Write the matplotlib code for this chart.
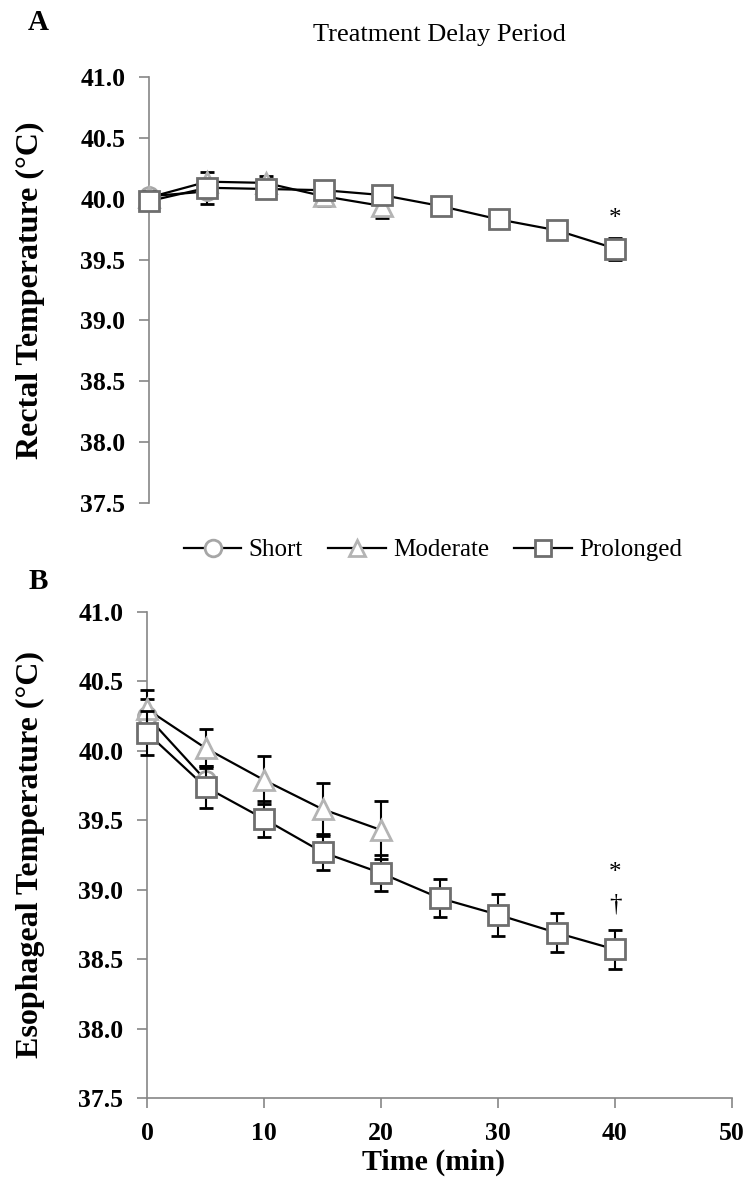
import numpy as np
import matplotlib.pyplot as plt
from matplotlib.lines import Line2D

plt.rcParams['font.family'] = ['Liberation Serif', 'DejaVu Serif']

# time points (min)
time = [0, 5, 10, 15, 20, 25, 30, 35, 40]

# A: rectal temperature (mean, SD)
short_rec = [40.02, 40.06]
short_rec_sd = [0.04, 0.10]
mod_rec = [40.01, 40.14, 40.13, 40.02, 39.94]
mod_rec_sd = [0.05, 0.08, 0.06, 0.08, 0.10]
pro_rec = [39.98, 40.09, 40.08, 40.07, 40.03, 39.94, 39.83, 39.74, 39.59]
pro_rec_sd = [0.04, 0.05, 0.06, 0.06, 0.05, 0.04, 0.05, 0.06, 0.09]

# B: esophageal temperature (mean, SD)
short_eso = [40.25, 39.79]
short_eso_sd = [0.12, 0.10]
mod_eso = [40.30, 40.02, 39.79, 39.58, 39.43]
mod_eso_sd = [0.14, 0.14, 0.17, 0.19, 0.21]
pro_eso = [40.13, 39.74, 39.51, 39.27, 39.12, 38.94, 38.82, 38.69, 38.57]
pro_eso_sd = [0.16, 0.15, 0.13, 0.13, 0.13, 0.14, 0.15, 0.14, 0.14]

labels = ['Short', 'Moderate', 'Prolonged']
markers = ['o', '^', 's']
edge = ['#a6a6a6', '#b4b4b4', '#6e6e6e']
msize = [13, 15, 15]

yticks = np.arange(37.5, 41.01, 0.5)
axis_grey = '#868686'

W, H = 749, 1183
fig = plt.figure(figsize=(W / 100, H / 100), dpi=100)
axA = fig.add_axes([149 / W, 1 - 503 / H, (732 - 149) / W, (503 - 77) / H])
axB = fig.add_axes([147 / W, 1 - 1098 / H, (732 - 147) / W, (1098 - 612) / H])


def draw(ax, series):
    for i, (y, sd) in enumerate(series):
        c = ax.errorbar(time[:len(y)], y, yerr=sd, color='black', lw=1.6,
                        marker=markers[i], ms=msize[i], mfc='white', mec=edge[i],
                        mew=2, ecolor='black', elinewidth=1.5, capsize=5,
                        capthick=1.5, zorder=3 + i)
        for art in c.get_children():
            art.set_clip_on(False)


draw(axA, [(short_rec, short_rec_sd), (mod_rec, mod_rec_sd), (pro_rec, pro_rec_sd)])
draw(axB, [(short_eso, short_eso_sd), (mod_eso, mod_eso_sd), (pro_eso, pro_eso_sd)])

for ax in (axA, axB):
    ax.set_xlim(0, 50)
    ax.set_ylim(37.5, 41.0)
    ax.set_yticks(yticks)
    ax.set_yticklabels(['%.1f' % v for v in yticks])
    for s in ('top', 'right'):
        ax.spines[s].set_visible(False)
    for s in ('left', 'bottom'):
        ax.spines[s].set_color(axis_grey)
        ax.spines[s].set_linewidth(1.2)
    ax.tick_params(direction='out', length=7, width=1.2, color=axis_grey,
                   labelsize=18.5, pad=10)
    for t in ax.get_yticklabels() + ax.get_xticklabels():
        t.set_fontweight('bold')

axA.spines['bottom'].set_visible(False)
axA.set_xticks([])
axB.set_xticks([0, 10, 20, 30, 40, 50])
for t in axB.get_xticklabels():
    t.set_fontweight('bold')

axA.set_ylabel('Rectal Temperature (°C)', fontsize=23, fontweight='bold', va='center')
axA.yaxis.set_label_coords((30 - 149) / 583, 0.5)
axB.set_ylabel('Esophageal Temperature (°C)', fontsize=23, fontweight='bold', va='center')
axB.yaxis.set_label_coords((30 - 147) / 585, 0.5)
axB.set_xlabel('Time (min)', fontsize=21.5, fontweight='bold', va='center')
axB.xaxis.set_label_coords(0.49, -0.132)

# significance marks
axA.text(40, 39.83, '*', ha='center', va='center', fontsize=18)
axB.text(40, 39.12, '*', ha='center', va='center', fontsize=18)
axB.text(40, 38.89, '†', ha='center', va='center', fontsize=18)

fig.text(38 / W, 1 - 22 / H, 'A', fontsize=21, fontweight='bold', ha='center', va='center')
fig.text(38 / W, 1 - 582 / H, 'B', fontsize=21, fontweight='bold', ha='center', va='center')
fig.text(439 / W, 1 - 35 / H, 'Treatment Delay Period', fontsize=19, ha='center', va='center')

handles = [Line2D([], [], color='black', lw=1.6, marker=markers[i], ms=12,
                  mfc='white', mec=edge[i], mew=2) for i in range(3)]
fig.legend(handles, labels, loc='center', bbox_to_anchor=(433 / W, 1 - 550 / H),
           ncol=3, frameon=False, fontsize=18, handlelength=2.3,
           handletextpad=0.3, columnspacing=1.0)

fig.savefig('out.png', dpi=100)
